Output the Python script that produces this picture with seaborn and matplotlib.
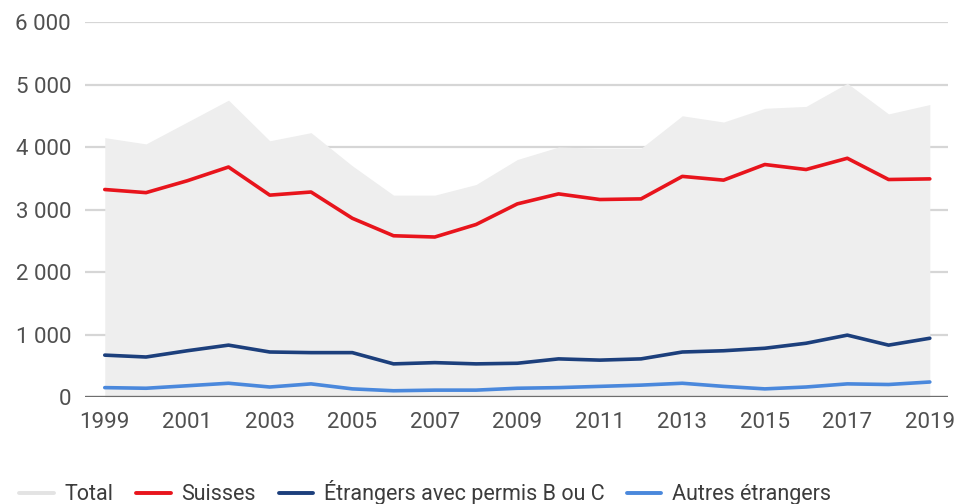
import pandas as pd
import numpy as np
import matplotlib.pyplot as plt
import seaborn as sns
from matplotlib.lines import Line2D
from matplotlib.ticker import FuncFormatter

# data
years = list(range(1999, 2020))
total = [4150, 4050, 4400, 4750, 4100, 4230, 3700, 3230, 3230, 3400, 3800,
         4000, 3980, 3980, 4500, 4400, 4620, 4650, 5020, 4530, 4680]
suisses = [3320, 3270, 3460, 3680, 3230, 3280, 2860, 2580, 2560, 2760, 3090,
           3250, 3160, 3170, 3530, 3470, 3720, 3640, 3820, 3480, 3490]
etrangers_bc = [670, 640, 740, 830, 720, 710, 710, 530, 550, 530, 540,
                610, 590, 610, 720, 740, 780, 860, 990, 830, 940]
autres = [150, 140, 180, 220, 160, 210, 130, 100, 110, 110, 140,
          150, 170, 190, 220, 170, 130, 160, 210, 200, 240]

labels = ['Total', 'Suisses', 'Étrangers avec permis B ou C', 'Autres étrangers']
colors = ['#e3e3e3', '#e8141c', '#1c3f7c', '#4a88dc']

df = pd.DataFrame({'annee': years, 'Suisses': suisses,
                   'Étrangers avec permis B ou C': etrangers_bc,
                   'Autres étrangers': autres})
df_long = df.melt(id_vars='annee', var_name='groupe', value_name='n')

sns.set_style('white')
plt.rcParams['font.family'] = ['Roboto', 'DejaVu Sans']

fig = plt.figure(figsize=(9.59, 5.04), dpi=100)
ax = fig.add_axes([0.0886, 0.2123, 0.8999, 0.744])

# total as grey area
ax.fill_between(years, total, 0, color='#eeeeee', lw=0, zorder=1)

for y in range(1000, 7000, 1000):
    ax.axhline(y, color='#d6d6d6', lw=1.6, zorder=0.5)

sns.lineplot(data=df_long, x='annee', y='n', hue='groupe',
             palette=dict(zip(labels[1:], colors[1:])), linewidth=2.6,
             legend=False, ax=ax, zorder=3)
ax.axhline(0, color='#6e6e6e', lw=2.4, zorder=4)

ax.set_xlim(1998.52, 2019.44)
ax.set_ylim(0, 6000)
ax.set_xticks(range(1999, 2020, 2))
ax.set_yticks(range(0, 7000, 1000))
ax.yaxis.set_major_formatter(FuncFormatter(lambda v, p: f'{int(v):,}'.replace(',', ' ')))
ax.set_xlabel('')
ax.set_ylabel('')
ax.tick_params(axis='both', length=0, labelsize=16, colors='#505050')
ax.tick_params(axis='y', pad=10)
ax.tick_params(axis='x', pad=11)
sns.despine(ax=ax, left=True, bottom=True, top=True, right=True)

handles = [Line2D([0], [0], color=c, lw=2.8) for c in colors]
fig.legend(handles, labels, loc='center left', bbox_to_anchor=(0.0, 0.022),
           ncol=4, frameon=False, fontsize=15.5, handlelength=1.6,
           handletextpad=0.5, columnspacing=1.05, labelcolor='#3c3c3c')

fig.savefig('out.png', dpi=100)
